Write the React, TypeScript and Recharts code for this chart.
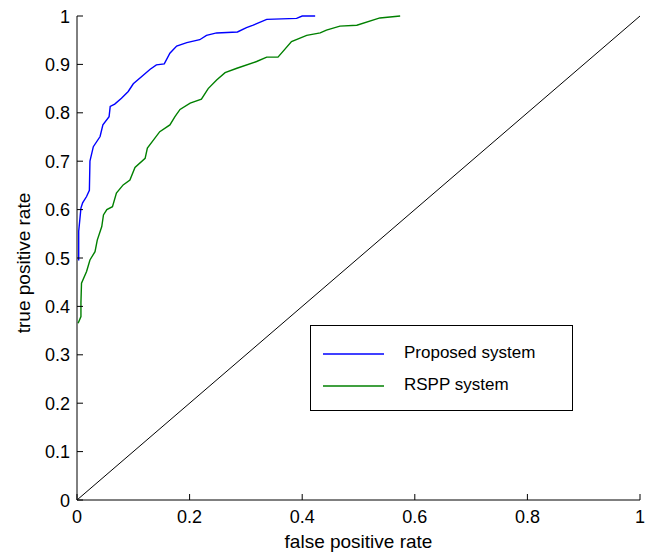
import React from 'react';
import { LineChart, Line, XAxis, YAxis, Legend, Label } from 'recharts';

// ROC points
const proposedFpr = [0.003, 0.003, 0.007, 0.010, 0.017, 0.022, 0.023, 0.029, 0.041, 0.046, 0.057, 0.059, 0.067, 0.079, 0.091, 0.100, 0.115, 0.130, 0.141, 0.155, 0.165, 0.177, 0.195, 0.218, 0.230, 0.248, 0.285, 0.301, 0.313, 0.337, 0.390, 0.400, 0.423];
const proposedTpr = [0.495, 0.555, 0.603, 0.614, 0.627, 0.640, 0.700, 0.730, 0.751, 0.775, 0.792, 0.813, 0.818, 0.830, 0.844, 0.860, 0.875, 0.890, 0.899, 0.901, 0.923, 0.938, 0.945, 0.951, 0.960, 0.965, 0.967, 0.976, 0.981, 0.993, 0.995, 1.0, 1.0];

const rsppFpr = [0.002, 0.007, 0.007, 0.008, 0.017, 0.023, 0.032, 0.036, 0.044, 0.047, 0.053, 0.063, 0.070, 0.082, 0.094, 0.103, 0.121, 0.125, 0.136, 0.147, 0.165, 0.174, 0.183, 0.201, 0.221, 0.233, 0.248, 0.263, 0.284, 0.319, 0.337, 0.357, 0.381, 0.408, 0.432, 0.443, 0.467, 0.497, 0.538, 0.574];
const rsppTpr = [0.365, 0.379, 0.408, 0.448, 0.472, 0.496, 0.513, 0.537, 0.565, 0.589, 0.600, 0.606, 0.634, 0.651, 0.661, 0.687, 0.706, 0.727, 0.744, 0.761, 0.775, 0.792, 0.807, 0.820, 0.828, 0.850, 0.868, 0.883, 0.892, 0.906, 0.915, 0.915, 0.947, 0.960, 0.965, 0.971, 0.979, 0.981, 0.996, 1.0];

const diagX = [0, 1];
const diagY = [0, 1];

const xTicks = [0, 0.2, 0.4, 0.6, 0.8, 1];
const yTicks = [0, 0.1, 0.2, 0.3, 0.4, 0.5, 0.6, 0.7, 0.8, 0.9, 1];

const toPoints = (xs: number[], ys: number[]) => xs.map((x, i) => ({ x, y: ys[i] }));
const proposed = toPoints(proposedFpr, proposedTpr);
const rspp = toPoints(rsppFpr, rsppTpr);
const diag = toPoints(diagX, diagY);

const FONT = '"Liberation Sans", Arial, sans-serif';
const fmt = (v: number) => String(Math.round(v * 10) / 10);

const BottomTick = (props: any) => {
  const { x, y, payload } = props;
  return (
    <g>
      <line x1={x} y1={y} x2={x} y2={y - 6} stroke="#000" />
      <text x={x} y={y + 23} textAnchor="middle" fontSize={18} fontFamily={FONT} fill="#000">{fmt(payload.value)}</text>
    </g>
  );
};

const LeftTick = (props: any) => {
  const { x, y, payload } = props;
  return (
    <g>
      <line x1={x} y1={y} x2={x + 6} y2={y} stroke="#000" />
      <text x={x - 7} y={y + 6.5} textAnchor="end" fontSize={18} fontFamily={FONT} fill="#000">{fmt(payload.value)}</text>
    </g>
  );
};

const TopTick = (props: any) => {
  const { x, y } = props;
  return <line x1={x} y1={y} x2={x} y2={y + 6} stroke="#000" />;
};

const RightTick = (props: any) => {
  const { x, y } = props;
  return <line x1={x} y1={y} x2={x - 6} y2={y} stroke="#000" />;
};

const YTitle = () => (
  <text x={30} y={263} transform="rotate(-90, 30, 263)" textAnchor="middle" fontSize={19} fontFamily={FONT} fill="#000">
    true positive rate
  </text>
);

const renderLegend = (props: any) => {
  const items = (props.payload || []).filter((p: any) => p.type !== 'none');
  return (
    <div style={{ position: 'relative', width: 263, height: 86, boxSizing: 'border-box', border: '1px solid #000', background: '#fff', fontFamily: FONT, fontSize: 17 }}>
      {items.map((p: any, i: number) => (
        <div key={p.value} style={{ position: 'absolute', left: 0, top: 18 + i * 32, height: 20, width: '100%' }}>
          <svg width={70} height={20} style={{ position: 'absolute', left: 12, top: 0 }}>
            <line x1={0} y1={10} x2={61} y2={10} stroke={p.color} strokeWidth={1.5} />
          </svg>
          <span style={{ position: 'absolute', left: 93, top: -1, lineHeight: '20px', color: '#000', whiteSpace: 'nowrap' }}>{p.value}</span>
        </div>
      ))}
    </div>
  );
};

export default function App() {
  return (
    <div style={{ position: 'absolute', left: 0, top: 0, width: 649, height: 552, background: '#fff' }}>
      <LineChart width={649} height={552} margin={{ top: 16, right: 9, left: 0, bottom: 0 }}>
        <XAxis
          dataKey="x"
          type="number"
          domain={[0, 1]}
          ticks={xTicks}
          interval={0}
          height={52}
          tickSize={0}
          tickMargin={0}
          tickLine={false}
          tick={BottomTick}
          axisLine={{ stroke: '#000' }}
        >
          <Label value="false positive rate" position="insideBottom" offset={4} fontSize={19} fontFamily={FONT} fill="#000" />
        </XAxis>
        <XAxis
          xAxisId="top"
          orientation="top"
          dataKey="x"
          type="number"
          domain={[0, 1]}
          ticks={xTicks}
          interval={0}
          height={0}
          tickSize={0}
          tickMargin={0}
          tickLine={false}
          tick={TopTick}
          axisLine={{ stroke: '#000' }}
        />
        <YAxis
          type="number"
          domain={[0, 1]}
          ticks={yTicks}
          interval={0}
          width={77}
          tickSize={0}
          tickMargin={0}
          tickLine={false}
          tick={LeftTick}
          axisLine={{ stroke: '#000' }}
        >
          <Label content={YTitle} />
        </YAxis>
        <YAxis
          yAxisId="right"
          orientation="right"
          type="number"
          domain={[0, 1]}
          ticks={yTicks}
          interval={0}
          width={0}
          tickSize={0}
          tickMargin={0}
          tickLine={false}
          tick={RightTick}
          axisLine={{ stroke: '#000' }}
        />
        <Line data={diag} dataKey="y" name="diagonal" type="linear" stroke="#000" strokeWidth={1} dot={false} legendType="none" isAnimationActive={false} />
        <Line data={proposed} dataKey="y" name="Proposed system" type="linear" stroke="#0000ff" strokeWidth={1.4} dot={false} isAnimationActive={false} />
        <Line data={rspp} dataKey="y" name="RSPP system" type="linear" stroke="#008000" strokeWidth={1.4} dot={false} isAnimationActive={false} />
        <Legend
          layout="horizontal"
          verticalAlign="middle"
          align="center"
          content={renderLegend}
          wrapperStyle={{ left: 310, top: 325, width: 263, height: 86 }}
        />
      </LineChart>
    </div>
  );
}
